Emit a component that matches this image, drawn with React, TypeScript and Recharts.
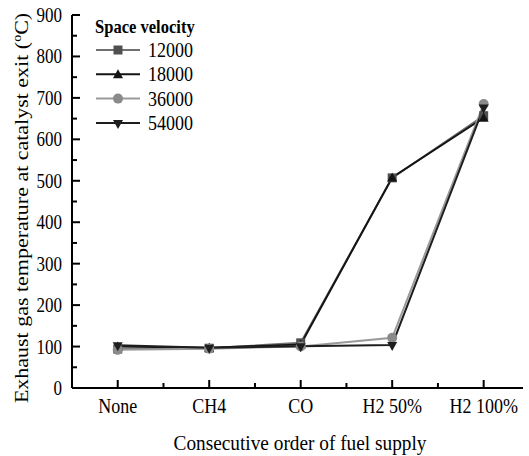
import React from 'react';
import { LineChart, Line, XAxis, YAxis } from 'recharts';

const categories = ['None', 'CH4', 'CO', 'H2 50%', 'H2 100%'];
const seriesNames = ['12000', '18000', '36000', '54000'];
const sv12000 = [94, 96, 109, 507, 657];
const sv18000 = [100, 97, 105, 508, 652];
const sv36000 = [92, 95, 100, 121, 685];
const sv54000 = [103, 97, 101, 104, 677];
const yTicks = [0, 50, 100, 150, 200, 250, 300, 350, 400, 450, 500, 550, 600, 650, 700, 750, 800, 850, 900];
const xTicks = [1, 1.5, 2, 2.5, 3, 3.5, 4, 4.5, 5];
const xTitle = 'Consecutive order of fuel supply';
const yTitle = 'Exhaust gas temperature at catalyst exit (';
const legendTitle = 'Space velocity';

const FONT = 'Liberation Serif';
const TICK = '#000';

const seriesValues = [sv12000, sv18000, sv36000, sv54000];
const styles = [
  { stroke: '#707070', fill: '#505050', shape: 'square' },
  { stroke: '#141414', fill: '#141414', shape: 'up' },
  { stroke: '#9a9a9a', fill: '#8a8a8a', shape: 'circle' },
  { stroke: '#1e1e1e', fill: '#1e1e1e', shape: 'down' },
];

const data = categories.map((c, i) => {
  const row: any = { x: i + 1, name: c };
  seriesNames.forEach((s, k) => {
    row['s' + s] = seriesValues[k][i];
  });
  return row;
});

function Marker({ cx, cy, shape, fill }: any) {
  if (cx == null || cy == null) return null;
  if (shape === 'square') return <rect x={cx - 4.5} y={cy - 4.5} width={9} height={9} fill={fill} />;
  if (shape === 'circle') return <circle cx={cx} cy={cy} r={5} fill={fill} />;
  if (shape === 'up')
    return <polygon points={`${cx},${cy - 5} ${cx + 5},${cy + 4} ${cx - 5},${cy + 4}`} fill={fill} />;
  return <polygon points={`${cx},${cy + 6} ${cx + 5},${cy - 3} ${cx - 5},${cy - 3}`} fill={fill} />;
}

const BottomTick = (props: any) => {
  const x = Number(props.x);
  const y = Number(props.y);
  const v = props.payload.value;
  const major = Number.isInteger(v);
  return (
    <g>
      <path d={`M${x},${y}L${x},${y - (major ? 8 : 5)}`} stroke={TICK} strokeWidth={2} fill="none" />
      {major && (
        <text
          transform={`translate(${x},${y + 25}) scale(0.9,1)`}
          textAnchor="middle"
          fontSize={20}
          fontFamily={FONT}
          fill="#000"
        >
          {categories[v - 1]}
        </text>
      )}
    </g>
  );
};

const TopTick = (props: any) => {
  const x = Number(props.x);
  const y = Number(props.y);
  const major = Number.isInteger(props.payload.value);
  return <path d={`M${x},${y}L${x},${y + (major ? 4 : 3)}`} stroke={TICK} strokeWidth={2} fill="none" />;
};

const LeftTick = (props: any) => {
  const x = Number(props.x);
  const y = Number(props.y);
  const v = props.payload.value;
  const major = v % 100 === 0;
  return (
    <g>
      <path d={`M${x},${y}L${x + (major ? 8 : 5)},${y}`} stroke={TICK} strokeWidth={2} fill="none" />
      {major && (
        <text
          transform={`translate(${x - 10},${y + 7}) scale(0.85,1)`}
          textAnchor="end"
          fontSize={20}
          fontFamily={FONT}
          fill="#000"
        >
          {v}
        </text>
      )}
    </g>
  );
};

const RightTick = (props: any) => {
  const x = Number(props.x);
  const y = Number(props.y);
  const major = props.payload.value % 100 === 0;
  return <path d={`M${x},${y}L${x - (major ? 8 : 5)},${y}`} stroke={TICK} strokeWidth={2} fill="none" />;
};

export default function App() {
  return (
    <div style={{ position: 'absolute', left: 0, top: 0, width: 529, height: 456, background: '#fff' }}>
      <LineChart width={529} height={456} data={data} margin={{ top: 15, right: 6, left: 0, bottom: 0 }}>
        <XAxis
          dataKey="x"
          type="number"
          domain={[0.5, 5.43]}
          allowDataOverflow
          ticks={xTicks}
          interval={0}
          tickSize={0}
          tickMargin={0}
          height={68}
          axisLine={{ stroke: '#000', strokeWidth: 2 }}
          tickLine={false}
          tick={BottomTick}
        />
        <XAxis
          xAxisId="top"
          orientation="top"
          dataKey="x"
          type="number"
          domain={[0.5, 5.43]}
          allowDataOverflow
          ticks={xTicks}
          interval={0}
          tickSize={0}
          tickMargin={0}
          height={0}
          axisLine={{ stroke: '#000', strokeWidth: 2 }}
          tickLine={false}
          tick={TopTick}
        />
        <YAxis
          type="number"
          domain={[0, 900]}
          allowDataOverflow
          ticks={yTicks}
          interval={0}
          tickSize={0}
          tickMargin={0}
          width={72}
          axisLine={{ stroke: '#000', strokeWidth: 2 }}
          tickLine={false}
          tick={LeftTick}
        />
        <YAxis
          yAxisId="r"
          orientation="right"
          type="number"
          domain={[0, 900]}
          allowDataOverflow
          ticks={yTicks}
          interval={0}
          tickSize={0}
          tickMargin={0}
          width={0}
          axisLine={{ stroke: '#000', strokeWidth: 2 }}
          tickLine={false}
          tick={RightTick}
        />
        {seriesNames.map((s, k) => (
          <Line
            key={s}
            dataKey={'s' + s}
            name={s}
            type="linear"
            stroke={styles[k].stroke}
            strokeWidth={2}
            isAnimationActive={false}
            activeDot={false}
            dot={(p: any) => (
              <Marker key={`${s}-${p.index}`} cx={p.cx} cy={p.cy} shape={styles[k].shape} fill={styles[k].fill} />
            )}
          />
        ))}
      </LineChart>
      <svg
        width={529}
        height={456}
        style={{ position: 'absolute', left: 0, top: 0, pointerEvents: 'none' }}
      >
        <text
          transform="translate(28,208) scale(0.9,1) rotate(-90)"
          textAnchor="middle"
          fontSize={22}
          fontFamily={FONT}
          fill="#000"
        >
          {yTitle}
          <tspan fontSize={14} dy={-8}>o</tspan>
          <tspan dy={8}>C)</tspan>
        </text>
        <text
          transform="translate(300,450) scale(0.92,1)"
          textAnchor="middle"
          fontSize={21}
          fontFamily={FONT}
          fill="#000"
        >
          {xTitle}
        </text>
        <text
          transform="translate(95,33) scale(0.92,1)"
          fontSize={18}
          fontWeight="bold"
          fontFamily={FONT}
          fill="#000"
        >
          {legendTitle}
        </text>
        {seriesNames.map((s, k) => {
          const cy = 50 + k * 24.3;
          return (
            <g key={s}>
              <line x1={96} x2={140} y1={cy} y2={cy} stroke={styles[k].stroke} strokeWidth={2} />
              <Marker cx={118} cy={cy} shape={styles[k].shape} fill={styles[k].fill} />
              <text
                transform={`translate(148,${cy + 7}) scale(0.9,1)`}
                fontSize={20}
                fontFamily={FONT}
                fill="#000"
              >
                {s}
              </text>
            </g>
          );
        })}
      </svg>
    </div>
  );
}
